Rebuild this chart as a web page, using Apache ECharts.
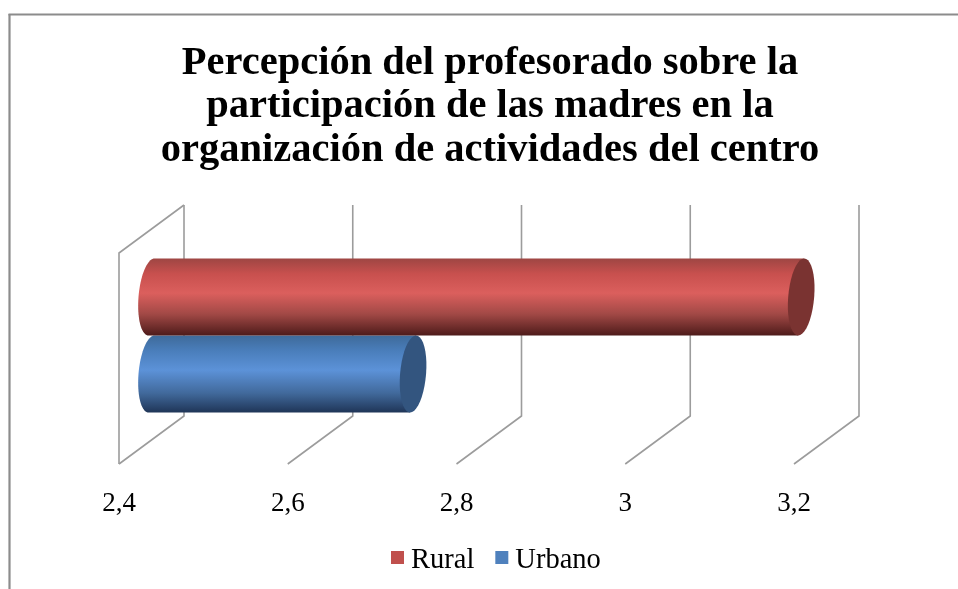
<!DOCTYPE html>
<html><head><meta charset="utf-8">
<style>html,body{margin:0;padding:0;background:#fff}#c{width:958px;height:589px}</style>
<script src="https://cdn.jsdelivr.net/npm/echarts@6/dist/echarts.min.js"></script>
</head><body><div id="c"></div>
<script>
const titleLines = ['Percepción del profesorado sobre la','participación de las madres en la','organización de actividades del centro'];
const categories = ['Participación'];
const ruralValues = [3.17];
const urbanoValues = [2.71];
const tickValues = [2.4, 2.6, 2.8, 3.0, 3.2];

const DX = 65, DY = -48, BAR_SHIFT = -23, RX = 13, SKEW = 3, BAND = 0.365;
const FONT = '"Liberation Serif", serif';
const chart = echarts.init(document.getElementById('c'), null, {renderer:'canvas'});

function grad(stops){
  return new echarts.graphic.LinearGradient(0,0,0,1,stops.map(s=>({offset:s[0],color:s[1]})));
}
const redStops = [[0,'#9E4643'],[0.2,'#C8504E'],[0.45,'#DB5F5D'],[0.72,'#A24946'],[1,'#4E1B1A']];
const blueStops = [[0,'#3E6A9A'],[0.2,'#4A7EBB'],[0.45,'#5C92D8'],[0.75,'#41699B'],[1,'#1F3557']];

// Points of a tilted elliptical end, from angle a0 to a1 (0 = top of the bar, PI/2 = rightmost).
function arc(cx, cy, h, a0, a1){
  const pts = [];
  const n = 40;
  for(let i=0;i<=n;i++){
    const a = a0 + (a1-a0)*i/n;
    pts.push([cx + SKEW*Math.cos(a) + RX*Math.sin(a), cy - (h/2)*Math.cos(a)]);
  }
  return pts;
}
function barRender(side, stops, capColor){
  return function(params, api){
    const start = api.coord([tickValues[0], 0]);
    const end = api.coord([api.value(0), 0]);
    const h = api.size([0,1])[1] * BAND;
    const mid = start[1] + BAR_SHIFT;
    const cy = side < 0 ? mid - h/2 : mid + h/2;
    const xl = start[0] + DX/2, xr = end[0] + DX/2;
    const body = [[xr+SKEW, cy-h/2],[xr-SKEW, cy+h/2]].concat(arc(xl, cy, h, Math.PI, 2*Math.PI));
    const cap = arc(xr, cy, h, 0, 2*Math.PI);
    return {type:'group',children:[
      {type:'polygon',shape:{points:body},style:{fill:grad(stops)}},
      {type:'polygon',shape:{points:cap},style:{fill:capColor}}
    ]};
  };
}
function wallRender(params, api){
  const p = api.coord([api.value(0), 0]);
  const rect = params.coordSys;
  const bottom = rect.y + rect.height, top = rect.y;
  const x = p[0];
  const st = {stroke:'#9c9c9c',lineWidth:1.6,fill:'none'};
  const children = [{type:'polyline',shape:{points:[[x,bottom],[x+DX,bottom+DY],[x+DX,top+DY]]},style:st}];
  if(params.dataIndex === 0){
    children.push({type:'polyline',shape:{points:[[x,bottom],[x,top],[x+DX,top+DY]]},style:st});
  }
  return {type:'group',children};
}

chart.setOption({
  animation:false,
  backgroundColor:'#fff',
  title:{
    text:titleLines.join('\n'),left:485,top:36.5,textAlign:'center',
    textStyle:{fontFamily:FONT,fontWeight:'bold',fontSize:40.5,lineHeight:43.5,color:'#000'}
  },
  legend:{
    data:['Rural','Urbano'],left:386,top:541,icon:'rect',itemWidth:13,itemHeight:13,itemGap:21,
    formatter:name=>`{t|${name}}`,
    textStyle:{rich:{t:{fontFamily:FONT,fontSize:28.5,color:'#000',padding:[6,0,0,2]}}}
  },
  grid:{left:119,top:253,width:675,height:211},
  xAxis:{type:'value',min:2.4,max:3.2,interval:0.2,
    axisLine:{show:false},axisTick:{show:false},splitLine:{show:false},
    axisLabel:{margin:26,fontFamily:FONT,fontSize:27,color:'#000',
      formatter:v=>String(Math.round(v*10)/10).replace('.',',')}},
  yAxis:{type:'category',data:categories,axisLine:{show:false},axisTick:{show:false},axisLabel:{show:false},splitLine:{show:false}},
  graphic:[
    {type:'line',silent:true,shape:{x1:8.5,y1:14.5,x2:958,y2:14.5},style:{stroke:'#8c8c8c',lineWidth:2.2}},
    {type:'line',silent:true,shape:{x1:9.5,y1:14,x2:9.5,y2:589},style:{stroke:'#8c8c8c',lineWidth:2.2}}
  ],
  series:[
    {type:'custom',name:'walls',silent:true,z:1,renderItem:wallRender,clip:false,encode:{x:0,y:1},
      data:tickValues.map(v=>[v,0])},
    {type:'custom',name:'Urbano',z:2,clip:false,itemStyle:{color:'#4F81BD'},encode:{x:0,y:1},
      renderItem:barRender(1,blueStops,'#33557F'),data:urbanoValues.map((v,i)=>[v,i])},
    {type:'custom',name:'Rural',z:3,clip:false,itemStyle:{color:'#C0504D'},encode:{x:0,y:1},
      renderItem:barRender(-1,redStops,'#7A3331'),data:ruralValues.map((v,i)=>[v,i])}
  ]
});
</script></body></html>
